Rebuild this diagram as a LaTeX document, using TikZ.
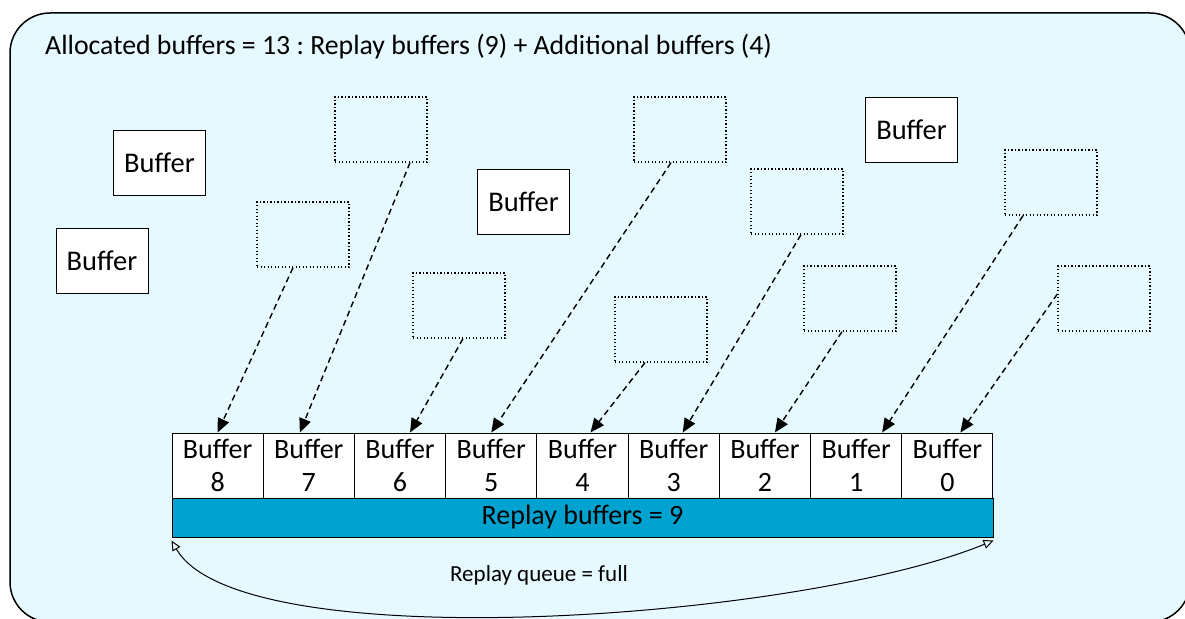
\documentclass[tikz,border=0pt]{standalone}
\usepackage{fontspec}
\setmainfont{Carlito}
\usetikzlibrary{arrows.meta}
\definecolor{panelbg}{RGB}{229,249,255}
\definecolor{replayblue}{RGB}{0,163,208}
\frenchspacing

\begin{document}
\begin{tikzpicture}[x=1pt, y=-1pt,
  buf/.style={draw, line width=1pt, fill=white, minimum width=92pt, minimum height=65pt, inner sep=0pt, font=\fontsize{28.5}{33}\selectfont},
  freebuf/.style={draw, line width=1.3pt, dash pattern=on 1.3pt off 2.2pt, minimum width=92pt, minimum height=65pt, inner sep=0pt},
  cell/.style={draw, line width=1pt, fill=white, minimum width=91.22pt, minimum height=65pt, inner sep=0pt, align=center, font=\fontsize{28}{33}\selectfont},
  reuse/.style={line width=1.4pt, dash pattern=on 6pt off 4pt, -{Triangle[length=14pt,width=12pt]}},
]
\useasboundingbox (0,0) rectangle (1185,618);
\clip (0,0) rectangle (1185,618);

% panel
\draw[line width=1.5pt, fill=panelbg, rounded corners=40pt] (10,13) rectangle (1190,622);
\node[anchor=west, inner sep=0pt, font=\fontsize{27.8}{32}\selectfont] (title) at (45,47)
  {Allocated buffers = 13 : Replay buffers (9) + Additional buffers (4)};

% additional buffers
\node[buf] (extra1) at (159.5,162.5) {Buffer};
\node[buf] (extra2) at (102,260.5) {Buffer};
\node[buf] (extra3) at (523.5,201.5) {Buffer};
\node[buf] (extra4) at (911.5,129.5) {Buffer};

% replay queue
\foreach \k [count=\i from 0] in {8,7,...,0}
  \node[cell] (q\k) at ({172+91.22*\i+45.61},465.5) {Buffer\\\k};
\node[draw, line width=1pt, fill=replayblue, minimum width=821pt, minimum height=39pt, inner sep=0pt,
  font=\fontsize{28}{32}\selectfont] (bar) at (582.5,517.5) {Replay buffers = 9};

% freed buffers
\node[freebuf] (free8) at (303,234.5) {};
\node[freebuf] (free7) at (381,129.5) {};
\node[freebuf] (free6) at (459,305.5) {};
\node[freebuf] (free5) at (680,129.5) {};
\node[freebuf] (free4) at (661,329.5) {};
\node[freebuf] (free3) at (797,201.5) {};
\node[freebuf] (free2) at (850,298.5) {};
\node[freebuf] (free1) at (1051,182.5) {};
\node[freebuf] (free0) at (1104,298.5) {};

\draw[reuse] ([xshift=-10pt]free8.south) -- (q8.north);
\draw[reuse] ([xshift=29pt]free7.south) -- ([xshift=-9pt]q7.north);
\draw[reuse] ([xshift=4pt]free6.south) -- ([xshift=10pt]q6.north);
\draw[reuse] ([xshift=-9pt]free5.south) -- (q5.north);
\draw[reuse] ([xshift=-16pt]free4.south) -- ([xshift=8pt]q4.north);
\draw[reuse] ([xshift=4pt]free3.south) -- ([xshift=9pt]q3.north);
\draw[reuse] ([xshift=-8pt]free2.south) -- ([xshift=10pt]q2.north);
\draw[reuse] ([xshift=-28pt]free1.south) -- ([xshift=26pt]q1.north);
\draw[reuse] ([yshift=4.5pt]free0.west) -- ([xshift=13pt]q0.north);

% queue span
\draw[line width=1pt, {Triangle[open,length=10pt,width=9pt]}-{Triangle[open,length=10pt,width=9pt]}]
  ([yshift=-3pt]bar.south west) .. controls (240,660) and (800,620) .. ([yshift=-3pt]bar.south east);
\node[font=\fontsize{23}{27}\selectfont] (span) at (539,575) {Replay queue = full};
\end{tikzpicture}
\end{document}
